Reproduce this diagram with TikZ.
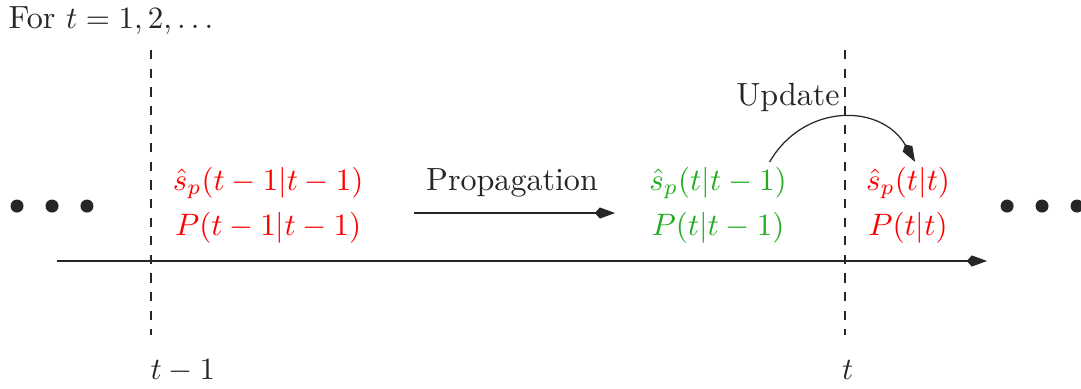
\documentclass[tikz,border=0pt]{standalone}
\usepackage{amsmath,amssymb}
\usepackage{xcolor}
\usetikzlibrary{arrows.meta,positioning}
\definecolor{estgreen}{RGB}{34,172,34}
\tikzset{
  fbase/.style={inner sep=0pt, font=\fontsize{10.35}{12.4}\selectfont},
  ftxt/.style={fbase, text=black!85},
  fred/.style={fbase, text=red},
  fgrn/.style={fbase, text=estgreen},
  fdot/.style={circle, fill=black!85, inner sep=0pt, minimum size=4.2pt},
  fdash/.style={dashed, black!85},
  farr/.style={-{Kite[length=6.5pt,width=3.6pt,inset=1.6pt]}, black!85}
}

\begin{document}
\begin{tikzpicture}
\useasboundingbox (0,0) rectangle (12.256,4.399);
\node[ftxt, anchor=west] (head) at (0.09,4.17) {For $t=1,2,\ldots$};
% time axis
\coordinate (ax0) at (0.646,1.44);
\coordinate (ax1) at (11.19,1.44);
\draw[farr] (ax0) -- (ax1);
% time instants
\coordinate (k1top) at (1.712,3.83); \coordinate (k1bot) at (1.712,0.60);
\coordinate (k2top) at (9.58,3.83); \coordinate (k2bot) at (9.58,0.60);
\draw[fdash] (k1top) -- (k1bot);
\draw[fdash] (k2top) -- (k2bot);
\node[ftxt, anchor=west] (k1lab) at (1.70,0.20) {$t-1$};
\node[ftxt, anchor=west] (k2lab) at (9.54,0.20) {$t$};
% dots
\node[fdot] (dl1) at (0.193,2.063) {};
\node[fdot] (dl2) at (0.590,2.063) {};
\node[fdot] (dl3) at (0.986,2.063) {};
\node[fdot] (dr1) at (11.418,2.063) {};
\node[fdot] (dr2) at (11.814,2.063) {};
\node[fdot] (dr3) at (12.211,2.063) {};
% estimates
\node[fred] (r1s) at (3.04,2.324) {$\hat{s}_p(t-1|t-1)$};
\node[fred] (r1P) at (3.04,1.814) {$P(t-1|t-1)$};
\node[fgrn] (g1s) at (8.14,2.324) {$\hat{s}_p(t|t-1)$};
\node[fgrn] (g1P) at (8.14,1.814) {$P(t|t-1)$};
\node[fred] (r2s) at (10.295,2.324) {$\hat{s}_p(t|t)$};
\node[fred] (r2P) at (10.295,1.814) {$P(t|t)$};
% steps
\node[ftxt] (prop) at (5.805,2.324) {Propagation};
\coordinate (pa) at (4.694,1.984);
\coordinate (pb) at (6.973,1.984);
\draw[farr] (pa) -- (pb);
\node[ftxt] (upd) at (8.934,3.297) {Update};
\draw[farr] ([xshift=-0.2cm,yshift=0.05cm]g1s.north east) to[out=60,in=120,looseness=1.2] ([xshift=0.08cm,yshift=0.05cm]r2s.north);
\end{tikzpicture}
\end{document}
